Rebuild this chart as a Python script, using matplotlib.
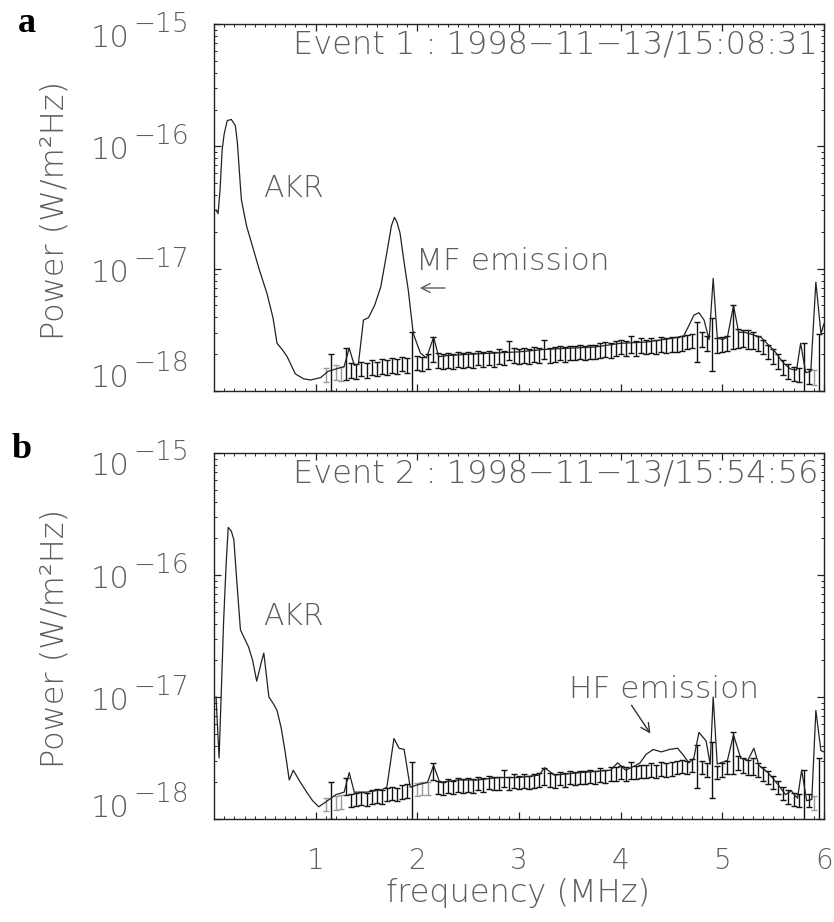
import numpy as np
import matplotlib.pyplot as plt
from matplotlib.ticker import MultipleLocator, LogLocator, NullFormatter

plt.rcParams['font.family'] = 'DejaVu Sans'
plt.rcParams['font.weight'] = 'light'

W, H = 834, 922
GRAY = '#5e5e5e'

# spectrum lines, log10 power (W/m^2Hz) vs frequency (MHz)
spec_a_freq = [0.02, 0.04, 0.06, 0.08, 0.10, 0.13, 0.17, 0.21, 0.23, 0.26,
               0.27, 0.32, 0.39, 0.45, 0.52, 0.58, 0.62, 0.67, 0.72, 0.80,
               0.88, 0.95, 1.05, 1.12, 1.20, 1.28, 1.33, 1.38, 1.42, 1.47,
               1.52, 1.58, 1.64, 1.70, 1.745, 1.775, 1.80, 1.83, 1.87, 1.91,
               1.96, 2.03, 2.09, 2.16, 2.21, 2.30, 2.50, 2.75, 3.00, 3.25,
               3.50, 3.75, 4.00, 4.25, 4.50, 4.62, 4.68, 4.72, 4.77, 4.82,
               4.87, 4.91, 4.95, 5.00, 5.05, 5.11, 5.16, 5.22, 5.30, 5.38,
               5.45, 5.52, 5.60, 5.67, 5.73, 5.77, 5.82, 5.87, 5.92, 5.97,
               6.00]
spec_a_pow = [-16.52, -16.55, -16.35, -16.03, -15.90, -15.79, -15.78, -15.83, -15.97, -16.33,
              -16.44, -16.65, -16.85, -17.02, -17.20, -17.40, -17.61, -17.66, -17.72, -17.86,
              -17.90, -17.91, -17.89, -17.84, -17.82, -17.80, -17.65, -17.79, -17.78, -17.42,
              -17.40, -17.30, -17.15, -16.87, -16.65, -16.58, -16.62, -16.71, -16.95, -17.17,
              -17.53, -17.69, -17.73, -17.56, -17.72, -17.71, -17.70, -17.69, -17.68, -17.66,
              -17.65, -17.64, -17.61, -17.60, -17.57, -17.55, -17.45, -17.38, -17.36, -17.42,
              -17.58, -17.08, -17.56, -17.58, -17.56, -17.30, -17.52, -17.52, -17.54, -17.56,
              -17.62, -17.68, -17.77, -17.82, -17.83, -17.61, -17.85, -17.84, -17.11, -17.53,
              -17.45]

spec_b_freq = [0.02, 0.05, 0.07, 0.095, 0.12, 0.14, 0.17, 0.195, 0.22, 0.26,
               0.30, 0.34, 0.38, 0.42, 0.47, 0.49, 0.54, 0.58, 0.62, 0.66,
               0.70, 0.74, 0.78, 0.85, 0.92, 0.97, 1.03, 1.10, 1.20, 1.28,
               1.33, 1.38, 1.50, 1.65, 1.70, 1.77, 1.82, 1.87, 1.93, 2.00,
               2.10, 2.16, 2.22, 2.40, 2.60, 2.80, 3.00, 3.20, 3.25, 3.35,
               3.60, 3.90, 3.97, 4.05, 4.15, 4.19, 4.25, 4.32, 4.40, 4.48,
               4.56, 4.62, 4.67, 4.72, 4.77, 4.84, 4.88, 4.91, 4.95, 5.05,
               5.11, 5.18, 5.25, 5.31, 5.36, 5.45, 5.55, 5.62, 5.68, 5.74,
               5.78, 5.83, 5.88, 5.92, 5.97, 6.00]
spec_b_pow = [-17.00, -17.50, -17.00, -16.37, -15.90, -15.61, -15.64, -15.71, -16.00, -16.45,
              -16.52, -16.59, -16.70, -16.87, -16.70, -16.64, -17.00, -17.05, -17.11, -17.25,
              -17.45, -17.68, -17.60, -17.70, -17.79, -17.85, -17.90, -17.86, -17.80, -17.78,
              -17.62, -17.78, -17.78, -17.76, -17.74, -17.34, -17.42, -17.43, -17.74, -17.72,
              -17.70, -17.56, -17.70, -17.68, -17.68, -17.66, -17.66, -17.64, -17.58, -17.64,
              -17.62, -17.60, -17.54, -17.60, -17.56, -17.54, -17.47, -17.43, -17.45, -17.43,
              -17.42, -17.48, -17.54, -17.50, -17.29, -17.36, -17.55, -17.00, -17.55, -17.52,
              -17.31, -17.50, -17.52, -17.42, -17.56, -17.62, -17.72, -17.80, -17.77, -17.83,
              -17.60, -17.85, -17.84, -17.11, -17.44, -17.45]

# background channels (MHz) with median log10 power and error half-width (decades)
bg_freq = [1.10, 1.15, 1.20, 1.25, 1.30, 1.35, 1.40, 1.45, 1.50, 1.55,
           1.60, 1.65, 1.70, 1.75, 1.80, 1.85, 1.90, 1.95, 2.00, 2.05,
           2.10, 2.15, 2.20, 2.25, 2.30, 2.35, 2.40, 2.45, 2.50, 2.55,
           2.60, 2.65, 2.70, 2.75, 2.80, 2.85, 2.90, 2.95, 3.00, 3.05,
           3.10, 3.15, 3.20, 3.25, 3.30, 3.35, 3.40, 3.45, 3.50, 3.55,
           3.60, 3.65, 3.70, 3.75, 3.80, 3.85, 3.90, 3.95, 4.00, 4.05,
           4.10, 4.15, 4.20, 4.25, 4.30, 4.35, 4.40, 4.45, 4.50, 4.55,
           4.60, 4.65, 4.70, 4.75, 4.80, 4.85, 4.90, 4.95, 5.00, 5.05,
           5.10, 5.15, 5.20, 5.25, 5.30, 5.35, 5.40, 5.45, 5.50, 5.55,
           5.60, 5.65, 5.70, 5.75, 5.80, 5.85, 5.90, 5.95]
bg_a_pow = [-17.87, -17.85, -17.85, -17.86, -17.78, -17.83, -17.84, -17.82, -17.83, -17.81,
            -17.82, -17.80, -17.81, -17.79, -17.80, -17.78, -17.79, -17.78, -17.77, -17.78,
            -17.76, -17.66, -17.75, -17.76, -17.75, -17.76, -17.74, -17.75, -17.74, -17.75,
            -17.73, -17.74, -17.73, -17.74, -17.72, -17.73, -17.67, -17.71, -17.72, -17.71,
            -17.72, -17.70, -17.71, -17.66, -17.71, -17.70, -17.69, -17.70, -17.69, -17.69,
            -17.68, -17.69, -17.68, -17.68, -17.67, -17.66, -17.67, -17.65, -17.64, -17.65,
            -17.62, -17.65, -17.63, -17.64, -17.63, -17.64, -17.62, -17.63, -17.62, -17.62,
            -17.61, -17.60, -17.59, -17.60, -17.58, -17.61, -17.62, -17.63, -17.62, -17.61,
            -17.48, -17.57, -17.57, -17.58, -17.59, -17.61, -17.64, -17.68, -17.72, -17.76,
            -17.81, -17.84, -17.86, -17.87, -17.86, -17.88, -17.89, -17.85]
bg_a_err = [0.06, 0.15, 0.06, 0.06, 0.13, 0.06, 0.06, 0.06, 0.06, 0.06,
            0.06, 0.06, 0.06, 0.06, 0.06, 0.06, 0.06, 0.26, 0.06, 0.06,
            0.06, 0.10, 0.06, 0.06, 0.06, 0.06, 0.06, 0.06, 0.06, 0.06,
            0.06, 0.06, 0.06, 0.06, 0.06, 0.06, 0.08, 0.06, 0.06, 0.06,
            0.06, 0.06, 0.06, 0.08, 0.06, 0.06, 0.06, 0.06, 0.06, 0.06,
            0.06, 0.06, 0.06, 0.06, 0.06, 0.06, 0.06, 0.06, 0.06, 0.06,
            0.07, 0.06, 0.06, 0.06, 0.06, 0.06, 0.06, 0.06, 0.06, 0.06,
            0.06, 0.06, 0.06, 0.16, 0.06, 0.06, 0.22, 0.06, 0.06, 0.06,
            0.18, 0.08, 0.07, 0.08, 0.07, 0.06, 0.06, 0.06, 0.06, 0.06,
            0.06, 0.06, 0.06, 0.06, 0.25, 0.06, 0.06, 0.32]
bg_b_pow = [-17.88, -17.85, -17.87, -17.86, -17.73, -17.85, -17.84, -17.83, -17.84, -17.82,
            -17.81, -17.82, -17.80, -17.79, -17.80, -17.78, -17.77, -17.77, -17.76, -17.75,
            -17.75, -17.61, -17.74, -17.75, -17.73, -17.74, -17.72, -17.73, -17.72, -17.73,
            -17.71, -17.72, -17.70, -17.71, -17.71, -17.67, -17.71, -17.69, -17.70, -17.69,
            -17.70, -17.69, -17.68, -17.65, -17.68, -17.69, -17.67, -17.68, -17.66, -17.67,
            -17.66, -17.66, -17.65, -17.66, -17.64, -17.65, -17.63, -17.63, -17.62, -17.63,
            -17.60, -17.62, -17.61, -17.61, -17.60, -17.61, -17.59, -17.60, -17.59, -17.58,
            -17.57, -17.58, -17.56, -17.57, -17.58, -17.60, -17.60, -17.62, -17.60, -17.58,
            -17.46, -17.54, -17.56, -17.58, -17.57, -17.60, -17.63, -17.66, -17.70, -17.74,
            -17.79, -17.82, -17.84, -17.85, -17.85, -17.85, -17.87, -17.80]
bg_b_err = [0.055, 0.15, 0.055, 0.055, 0.07, 0.055, 0.055, 0.055, 0.055, 0.055,
            0.055, 0.055, 0.055, 0.055, 0.055, 0.055, 0.055, 0.24, 0.055, 0.055,
            0.055, 0.07, 0.055, 0.055, 0.055, 0.055, 0.055, 0.055, 0.055, 0.055,
            0.055, 0.055, 0.055, 0.055, 0.055, 0.07, 0.055, 0.055, 0.055, 0.055,
            0.055, 0.055, 0.055, 0.07, 0.055, 0.055, 0.055, 0.055, 0.055, 0.055,
            0.055, 0.055, 0.055, 0.055, 0.055, 0.055, 0.055, 0.055, 0.055, 0.055,
            0.07, 0.055, 0.055, 0.055, 0.055, 0.055, 0.055, 0.055, 0.055, 0.055,
            0.055, 0.055, 0.055, 0.18, 0.055, 0.055, 0.23, 0.055, 0.055, 0.055,
            0.17, 0.06, 0.06, 0.06, 0.07, 0.055, 0.055, 0.055, 0.055, 0.055,
            0.055, 0.055, 0.055, 0.055, 0.25, 0.055, 0.055, 0.30]
# channels drawn in grey
gray_a = [1.10, 1.20, 1.25, 5.90]
gray_b = [1.10, 1.20, 1.25, 2.00, 2.05, 2.10, 5.90]

events = ['Event 1 : 1998\u221211\u221213/15:08:31',
          'Event 2 : 1998\u221211\u221213/15:54:56']
x_ticks = [1, 2, 3, 4, 5, 6]
decades = [-15, -16, -17, -18]


def fpx(x, y):
    # figure pixel (from top-left) -> figure fraction
    return x / W, 1 - y / H


def draw_panel(ax, sf, sp, bp, be, grays, event, label_dy, bottom):
    ax.set_yscale('log')
    f = np.array(bg_freq)
    c = np.array(bp)
    e = np.array(be)
    mid = 10.0 ** c
    lo = mid - 10.0 ** (c - e)
    hi = 10.0 ** (c + e) - mid
    is_gray = np.isin(np.round(f, 2), grays)
    for mask, col in [(~is_gray, '#111111'), (is_gray, '#9a9a9a')]:
        ax.errorbar(f[mask], mid[mask], yerr=[lo[mask], hi[mask]], fmt='none',
                    ecolor=col, elinewidth=1.0, capsize=2.4, capthick=1.0, zorder=2)
    ax.plot(sf, 10.0 ** np.array(sp), color='#222222', lw=0.9, zorder=3)
    ax.set_xlim(0, 6)
    ax.set_ylim(1e-18, 1e-15)

    ax.set_xticks(x_ticks)
    ax.xaxis.set_minor_locator(MultipleLocator(0.1))
    ax.yaxis.set_minor_locator(LogLocator(base=10, subs=np.arange(2, 10)))
    ax.yaxis.set_minor_formatter(NullFormatter())
    ax.tick_params(which='both', direction='in', top=True, right=True,
                   labelleft=False, labelbottom=bottom, color='#222222')
    ax.tick_params(which='major', length=5, width=0.9)
    ax.tick_params(which='minor', length=2.5, width=0.7)
    if bottom:
        ax.set_xticklabels([str(t) for t in x_ticks], fontsize=20, color=GRAY)
        ax.tick_params(axis='x', which='major', pad=20)
    for s in ax.spines.values():
        s.set_linewidth(1.0)
        s.set_color('#222222')

    # IDL-style decade labels
    for d, dy in zip(decades, label_dy):
        ax.annotate('10', xy=(0, 10.0 ** d), xycoords=('axes fraction', 'data'),
                    xytext=(-84, -(dy + 11)), textcoords='offset pixels',
                    ha='right', va='baseline', fontsize=22, color=GRAY,
                    annotation_clip=False)
        ax.annotate('\u2212' + str(-d), xy=(0, 10.0 ** d), xycoords=('axes fraction', 'data'),
                    xytext=(-81, -(dy - 4.4)), textcoords='offset pixels',
                    ha='left', va='baseline', fontsize=19, color=GRAY,
                    annotation_clip=False)

    ax.text(0.990, 0.984, event, transform=ax.transAxes, ha='right', va='top',
            fontsize=23, color=GRAY)


fig = plt.figure(figsize=(W / 100, H / 100), dpi=100)
ax_a = fig.add_axes([214 / W, 1 - 391 / H, 610 / W, 367 / H])
ax_b = fig.add_axes([214 / W, 1 - 819 / H, 610 / W, 366 / H])

draw_panel(ax_a, spec_a_freq, spec_a_pow, bg_a_pow, bg_a_err, gray_a, events[0],
           [12.5, 2, 2.5, -15.5], False)
draw_panel(ax_b, spec_b_freq, spec_b_pow, bg_b_pow, bg_b_err, gray_b, events[1],
           [11, 2.5, 2, -12.5], True)

# panel tags
fig.text(*fpx(18, 32), 'a', fontsize=26, fontweight='bold', family='Liberation Serif',
         va='baseline')
fig.text(*fpx(12, 458), 'b', fontsize=26, fontweight='bold', family='Liberation Serif',
         va='baseline')

# axis titles
for yc in [210, 638]:
    fig.text(*fpx(55, yc), 'Power (W/m\u00b2Hz)', rotation=90, ha='center', va='center',
             fontsize=23, color=GRAY)
fig.text(*fpx(518, 893), 'frequency (MHz)', ha='center', va='center', fontsize=23,
         color=GRAY)

# annotations
fig.text(*fpx(263, 197), 'AKR', fontsize=21.5, color=GRAY, va='baseline')
fig.text(*fpx(263, 625), 'AKR', fontsize=21.5, color=GRAY, va='baseline')
fig.text(*fpx(416, 270), 'MF emission', fontsize=22.5, color=GRAY, va='baseline')
fig.text(*fpx(569, 698), 'HF emission', fontsize=22.5, color=GRAY, va='baseline')
plt.annotate('', xy=(417, H - 288), xytext=(448, H - 288), xycoords='figure pixels',
             textcoords='figure pixels',
             arrowprops=dict(arrowstyle='->', color=GRAY, lw=1.0,
                             mutation_scale=16))
plt.annotate('', xy=(652, H - 736), xytext=(630, H - 703), xycoords='figure pixels',
             textcoords='figure pixels',
             arrowprops=dict(arrowstyle='->', color='#333333', lw=1.0,
                             mutation_scale=16))

fig.savefig('out.png', dpi=100)
